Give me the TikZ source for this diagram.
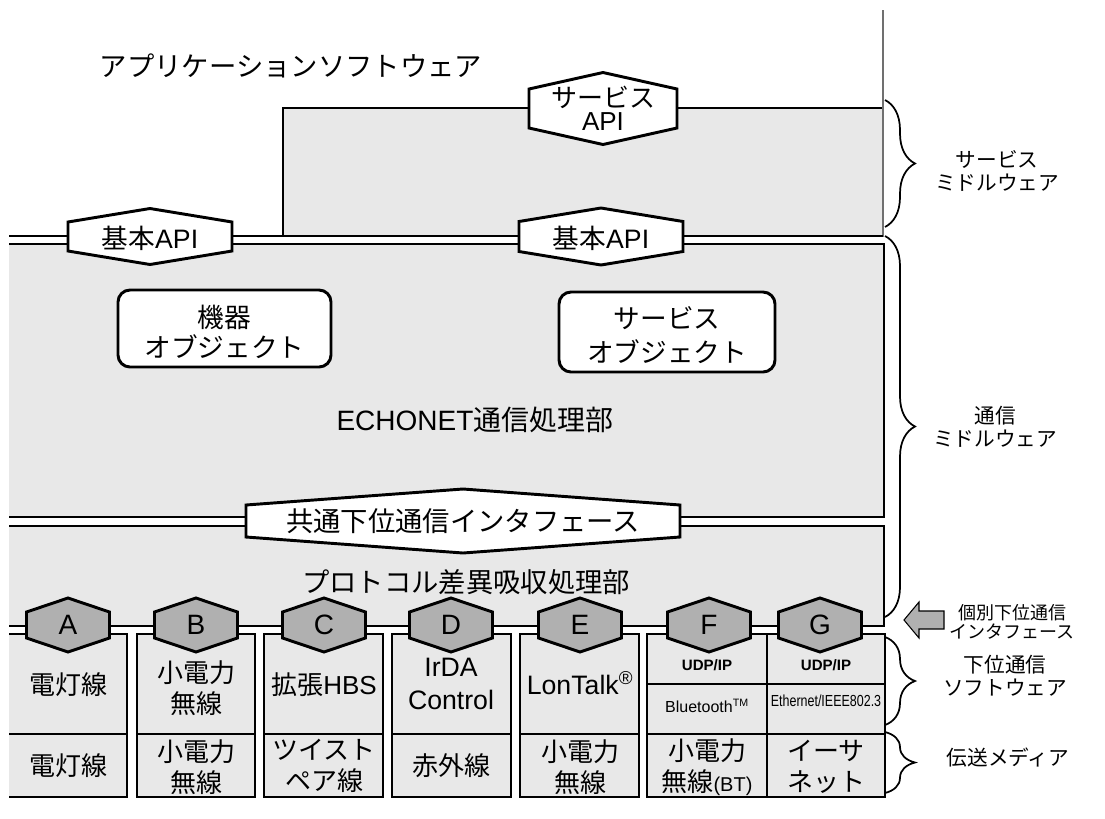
\documentclass[tikz,border=0pt]{standalone}
\usepackage{fontspec}
\usepackage{graphicx}
\setmainfont{Liberation Sans}
\newfontfamily\jp{Noto Sans CJK JP}
\usetikzlibrary{decorations.pathreplacing}
\definecolor{boxgray}{HTML}{E8E8E8}
\definecolor{hexgray}{HTML}{B0B0B0}
\definecolor{vgray}{HTML}{707070}
\newcommand\myhex[6]{%
  \draw[hexln,fill=#6] ({#1-#3},{#2-#4}) -- (#1,{#2-#4-#5}) -- ({#1+#3},{#2-#4}) -- ({#1+#3},{#2+#4}) -- (#1,{#2+#4+#5}) -- ({#1-#3},{#2+#4}) -- cycle;}
\begin{document}
\begin{tikzpicture}[x=0.75pt,y=-0.75pt,
  thinln/.style={line width=0.8pt,black},
  thickln/.style={line width=2pt,black},
  hexln/.style={line width=2.2pt,black,line join=miter},
  cellbox/.style={line width=1.9pt,black,fill=boxgray},
  objbox/.style={line width=2.2pt,black,fill=white,rounded corners=9pt},
  bigtext/.style={font=\jp\fontsize{20.5}{24}\selectfont,inner sep=0pt,align=center},
  apitext/.style={font=\fontsize{20}{16}\selectfont,inner sep=0pt,align=center},
  objtext/.style={font=\jp\fontsize{20}{23}\selectfont,inner sep=0pt,align=center},
  celltext/.style={font=\jp\fontsize{19.5}{23.5}\selectfont,inner sep=0pt,align=center},
  lettext/.style={font=\fontsize{21}{24}\selectfont,inner sep=0pt},
  smalltext/.style={font=\fontsize{12}{14}\selectfont,inner sep=0pt},
  sidetext/.style={font=\jp\fontsize{15.5}{17}\selectfont,inner sep=0pt,align=center},
  rbrace/.style={decorate,decoration={brace,amplitude=22.5pt},line width=1.3pt,black}]
\useasboundingbox (0,0) rectangle (1105,818);
\fill[white] (0,0) rectangle (1105,818);

% top text
\node[bigtext] (app) at (291,66) {アプリケーションソフトウェア};

% service middleware box
\fill[boxgray] (283,108) rectangle (883,236);
\draw[thinln] (283,236) -- (283,108) -- (883,108);
\draw[line width=0.9pt,vgray] (883,10) -- (883,237);
\draw[thinln] (9,236) -- (883,236);

% ECHONET box
\fill[boxgray] (9,244) rectangle (884,517);
\draw[thickln] (9,244) -- (884,244) -- (884,517) -- (9,517);

% protocol box
\fill[boxgray] (9,526) rectangle (884,626);
\draw[thickln] (9,526) -- (884,526) -- (884,626) -- (9,626);

% cells
\begin{scope}
\clip (9,0) rectangle (1105,818);
\foreach \l/\r in {2/127,137/255,264/383,392/511,520/639,647/767,767/885}{
  \draw[cellbox] (\l,634) rectangle (\r,797);
  \draw[line width=1.9pt] (\l,734) -- (\r,734);
}
\draw[line width=1.9pt] (647,684) -- (885,684);
\end{scope}

% object boxes
\draw[objbox] (118,290) rectangle (331,367);
\node[objtext] (kiki) at (224.5,332) {機器\\オブジェクト};
\draw[objbox] (559,292) rectangle (775,372);
\node[objtext,font=\jp\fontsize{20}{25.5}\selectfont] (svobj) at (667,335) {サービス\\オブジェクト};

\node[bigtext,font=\fontsize{21}{24}\selectfont] (echo) at (475,420) {ECHONET{\jp 通信処理部}};
\node[bigtext] (proto) at (466,582) {プロトコル差異吸収処理部};

% API hexagons
\myhex{150}{236.5}{82}{14.5}{13.5}{white}
\node[apitext] (bapiL) at (150,238) {{\jp 基本}API};
\myhex{601}{236.5}{82}{15}{13.5}{white}
\node[apitext] (bapiR) at (601,238) {{\jp 基本}API};
\myhex{603}{108.5}{74}{19.5}{16.5}{white}
\node[apitext,font=\fontsize{19.5}{17.5}\selectfont] (sapi) at (603,108) {{\jp サービス}\\API};
\myhex{463}{521}{217}{16}{16}{white}
\node[bigtext] (common) at (463,521) {共通下位通信インタフェース};

% letter hexagons
\foreach \cx/\t in {68/A,196/B,324/C,451/D,580/E,709/F,820/G}{
  \myhex{\cx}{625}{41.5}{13}{14}{hexgray}
  \node[lettext] (hex\t) at (\cx,625) {\t};
}

% cell texts
\node[celltext] (swA) at (68,685) {電灯線};
\node[celltext] (mdA) at (68,766) {電灯線};
\node[celltext] (swB) at (196,688) {小電力\\無線};
\node[celltext] (mdB) at (196,767) {小電力\\無線};
\node[celltext] (swC) at (324,685) {拡張{\fontspec{Liberation Sans}HBS}};
\node[celltext] (mdC) at (324,766) {ツイスト\\ペア線};
\node[apitext,font=\fontsize{20}{24.5}\selectfont] (swD) at (451,684) {IrDA\\Control};
\node[celltext] (mdD) at (451,766) {赤外線};
\node[apitext,font=\fontsize{20}{24}\selectfont] (swE) at (580,683) {LonTalk\textsuperscript{®}};
\node[celltext] (mdE) at (580,767) {小電力\\無線};
\node[smalltext,font=\bfseries\fontsize{11.3}{13}\selectfont] (udpF) at (707,665) {UDP/IP};
\node[smalltext] (btF) at (707,706) {Bluetooth\textsuperscript{TM}};
\node[celltext] (mdF) at (707,767) {小電力\\無線{\fontspec{Liberation Sans}\fontsize{15}{18}\selectfont(BT)}};
\node[smalltext,font=\bfseries\fontsize{11.3}{13}\selectfont] (udpG) at (826,665) {UDP/IP};
\node[smalltext] (ethG) at (826,701) {\scalebox{0.78}[1]{Ethernet/IEEE802.3}};
\node[celltext] (mdG) at (826,767) {イーサ\\ネット};

% braces
\coordinate (b1t) at (885,100); \coordinate (b1b) at (885,227);
\coordinate (b2t) at (885,236); \coordinate (b2b) at (885,617);
\coordinate (b3t) at (885,637); \coordinate (b3b) at (885,725);
\coordinate (b4t) at (885,732); \coordinate (b4b) at (885,793);
\draw[rbrace] (b1t) -- (b1b);
\draw[rbrace] (b2t) -- (b2b);
\draw[rbrace] (b3t) -- (b3b);
\draw[rbrace] (b4t) -- (b4b);

\node[sidetext] (lsvm) at (997,171) {サービス\\ミドルウェア};
\node[sidetext] (lcom) at (995,427) {通信\\ミドルウェア};
\node[sidetext,font=\jp\fontsize{13.5}{14.5}\selectfont] (lind) at (1012,622) {個別下位通信\\インタフェース};
\node[sidetext] (llow) at (1005,676) {下位通信\\ソフトウェア};
\node[sidetext] (lmed) at (1008,758) {伝送メディア};

% arrow
\draw[line width=0.8pt,black,fill=hexgray,line join=miter] (904,620) -- (919,602) -- (919,611) -- (944,611) -- (944,629) -- (919,629) -- (919,638) -- cycle;
\end{tikzpicture}
\end{document}
